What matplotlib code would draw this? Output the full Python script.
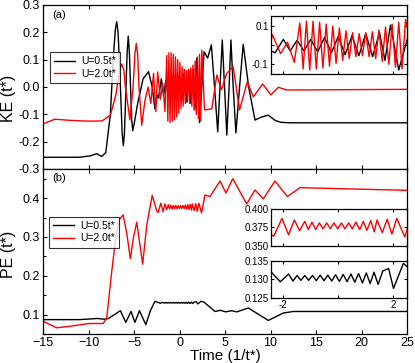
import matplotlib
matplotlib.use("Agg")
import matplotlib.pyplot as plt
from matplotlib.ticker import MultipleLocator, FixedLocator, FixedFormatter

plt.rcParams['font.family'] = ['Liberation Sans', 'DejaVu Sans']

# ---------------- data ----------------
ke_black_t = [-15, -11, -9.8, -9.1, -8.55, -8.1, -7.6, -7.25, -7.05, -6.9, -6.75, -6.55, -6.3, -6.17, -6.05, -5.9,
              -5.75, -5.63, -5.5, -5.38, -5.25, -5.14, -4.9, -4.6, -4.0, -3.4, -3.0, -2.7, -2.45,
              -2.3, -2.0, -1.75, -1.5, -1.25, -1.0, -0.75, -0.5, -0.25, 0.0, 0.25, 0.5, 0.75,
              1.0, 1.25, 1.5, 1.7, 1.9, 2.2, 2.7, 3.1, 3.5, 3.85, 4.2, 4.45, 4.7, 4.95, 5.2,
              5.45, 5.65, 5.9, 6.2, 6.6, 7.0, 7.6, 8.3, 9.0, 9.75, 10.5, 11.1, 12, 25]
ke_black_v = [-0.257, -0.257, -0.252, -0.244, -0.254, -0.24, -0.1, 0.12, 0.21, 0.239, 0.2, 0.05, -0.17, -0.215, -0.17, -0.02,
              0.13, 0.186, 0.12, 0.0, -0.12, -0.16, -0.12, -0.06, 0.03, 0.056, 0.0, -0.08, -0.03,
              -0.04, 0.03, -0.03, 0.025, -0.03, 0.03, -0.035, 0.04, -0.04, 0.045, -0.05, 0.05, -0.055,
              0.06, -0.06, 0.065, -0.08, 0.105, -0.13, 0.129, 0.106, 0.154, 0.0, -0.164, 0.0, 0.172, 0.0, -0.176,
              0.0, 0.172, 0.0, -0.168, 0.0, 0.156, 0.0, -0.121, -0.11, -0.103, -0.122, -0.129, -0.131, -0.131]

ke_red_t = [-15, -13.7, -12, -10, -8.5, -7.6, -7.0, -6.6, -6.35, -6.1, -5.95, -5.45, -5.1, -4.9, -4.75, -4.6, -4.45, -4.15,
            -3.8, -3.45, -3.15, -2.85, -2.6, -2.4, -2.1, -1.85, -1.6,
            -1.40, -1.28, -1.16, -1.04, -0.92, -0.80, -0.68, -0.56, -0.44, -0.32, -0.20, -0.08,
            0.04, 0.16, 0.28, 0.40, 0.52, 0.64, 0.76, 0.88, 1.00, 1.12, 1.24, 1.36, 1.48, 1.60,
            1.72, 1.84, 1.96, 2.08, 2.20, 2.32, 2.45, 2.75, 3.55, 4.1, 4.6, 5.2, 5.9, 6.6,
            7.45, 8.11, 9.14, 10.05, 10.86, 11.78, 25]
ke_red_v = [-0.135, -0.118, -0.122, -0.125, -0.124, -0.103, -0.03, 0.06, 0.084, 0.06, 0.0, -0.12, 0.0, 0.12, 0.16, 0.12, 0.0, -0.14,
            -0.05, 0.0, -0.06, 0.05, -0.09, 0.055, -0.045, 0.015, -0.09,
            0.115, -0.125, 0.125, -0.13, 0.125, -0.125, 0.12, -0.12, 0.11, -0.11, 0.10, -0.095,
            0.09, -0.08, 0.075, -0.07, 0.065, -0.06, 0.06, -0.055, 0.065, -0.06, 0.07, -0.07, 0.08, -0.085,
            0.095, -0.1, 0.11, -0.115, 0.12, -0.125, 0.135, -0.084, -0.08, 0.044, -0.01, 0.05, 0.074, -0.084,
            0.019, -0.036, 0.011, -0.029, -0.001, -0.011, -0.0085]

pe_black_t = [-15, -11, -9.0, -8.2, -7.8, -6.5, -5.9, -5.33, -4.9, -4.4, -3.7, -3.2, -2.7, -2.45,
              -2.11, -1.81, -1.65, -1.5, -1.36, -1.22, -1.08, -0.94, -0.80, -0.66, -0.52, -0.38,
              -0.24, -0.10, 0.04, 0.18, 0.32, 0.46, 0.60, 0.74, 0.88, 1.02, 1.16, 1.30, 1.45,
              1.62, 1.83, 2.01, 2.37, 2.7, 3.9, 4.5, 5.1, 5.7, 6.3, 7.56, 9.76, 11.4, 12.5, 25]
pe_black_v = [0.087, 0.087, 0.09, 0.088, 0.09, 0.110, 0.080, 0.108, 0.080, 0.11, 0.074, 0.11, 0.134, 0.132,
              0.1293, 0.1314, 0.1295, 0.131, 0.1297, 0.131, 0.1297, 0.131, 0.1296, 0.1311, 0.1296, 0.1311,
              0.1295, 0.1312, 0.1294, 0.1313, 0.1293, 0.1314, 0.1292, 0.1315, 0.129, 0.1317, 0.1288, 0.1319, 0.1286,
              0.1322, 0.1329, 0.1275, 0.1343, 0.132, 0.108, 0.111, 0.107, 0.11, 0.107, 0.117, 0.085, 0.104, 0.108, 0.108]

pe_red_t = [-15, -13.5, -12, -10, -8.4, -8.0, -7.5, -7.0, -6.6, -6.2, -5.8, -5.4, -5.05, -4.7, -4.35,
            -4.05, -3.6, -3.0, -2.5, -2.35, -2.05, -1.81, -1.6, -1.41, -1.22, -1.09, -0.96, -0.82,
            -0.69, -0.56, -0.42, -0.29, -0.16, -0.02, 0.11, 0.24, 0.38, 0.51, 0.64, 0.78, 0.91,
            1.04, 1.18, 1.31, 1.41, 1.6, 1.78, 1.95, 2.13, 2.42, 2.8, 3.35, 4.45, 5.11, 5.85,
            7.38, 8.30, 9.21, 10.49, 11.85, 13.24, 25]
pe_red_v = [0.083, 0.066, 0.07, 0.077, 0.077, 0.09, 0.2, 0.3, 0.345, 0.357, 0.31, 0.244, 0.3, 0.338, 0.28,
            0.23, 0.33, 0.407, 0.367, 0.363, 0.387, 0.365, 0.385, 0.3705, 0.383, 0.372, 0.382, 0.372,
            0.381, 0.373, 0.381, 0.373, 0.381, 0.373, 0.381, 0.373, 0.381, 0.373, 0.382, 0.372, 0.383,
            0.371, 0.384, 0.369, 0.385, 0.368, 0.386, 0.366, 0.387, 0.362, 0.408, 0.404, 0.444, 0.413, 0.450,
            0.385, 0.421, 0.398, 0.444, 0.404, 0.427, 0.420]

labels = ['U=0.5t*', 'U=2.0t*']
colors = ['black', 'red']
main_xticks = [-15, -10, -5, 0, 5, 10, 15, 20, 25]

# ---------------- figure ----------------
W, H = 415, 363
fig = plt.figure(figsize=(W / 100, H / 100), dpi=100)

def fa(x0, y0, x1, y1):
    return [x0 / W, 1 - y1 / H, (x1 - x0) / W, (y1 - y0) / H]

ax1 = fig.add_axes(fa(43, 5, 407, 169))
ax2 = fig.add_axes(fa(43, 169, 407, 334))

lw = 1.0
for ax, series in [(ax1, [(ke_black_t, ke_black_v), (ke_red_t, ke_red_v)]),
                   (ax2, [(pe_black_t, pe_black_v), (pe_red_t, pe_red_v)])]:
    for (t, v), c, lab in zip(series, colors, labels):
        ax.plot(t, v, color=c, lw=lw, label=lab)
    ax.set_xlim(-15, 25)
    ax.xaxis.set_major_locator(FixedLocator(main_xticks))
    ax.tick_params(direction='in', length=3, width=0.8, top=True, right=False, labelsize=9, pad=2.5)
    for s in ax.spines.values():
        s.set_linewidth(0.9)
    leg = ax.legend(loc='upper left', fontsize=7.5, frameon=True, fancybox=False,
                    edgecolor='black', handlelength=2.0, borderpad=0.4, labelspacing=0.25,
                    handletextpad=0.6, borderaxespad=0.0)
    leg.get_frame().set_linewidth(0.8)

ax1.legend_.set_bbox_to_anchor((0.019, 0.713))
ax2.legend_.set_bbox_to_anchor((0.0165, 0.711))

ax1.set_ylim(-0.3, 0.3)
ax1.yaxis.set_major_locator(MultipleLocator(0.1))
ax1.yaxis.set_major_formatter(matplotlib.ticker.FormatStrFormatter('%.1f'))
ax1.tick_params(labelbottom=False)
ax1.set_ylabel('KE (t*)', fontsize=11.5)
ax1.yaxis.set_label_coords(-0.074, 0.43)
ax1.text(0.025, 0.94, '(a)', transform=ax1.transAxes, fontsize=8, va='center', ha='left')

ax2.set_ylim(0.05, 0.475)
ax2.yaxis.set_major_locator(FixedLocator([0.1, 0.2, 0.3, 0.4]))
ax2.yaxis.set_minor_locator(FixedLocator([0.05, 0.15, 0.25, 0.35, 0.45]))
ax2.yaxis.set_major_formatter(matplotlib.ticker.FormatStrFormatter('%.1f'))
ax2.tick_params(which='minor', direction='in', length=2, width=0.8)
ax2.set_ylabel('PE (t*)', fontsize=11.5)
ax2.yaxis.set_label_coords(-0.074, 0.48)
ax2.set_xlabel('Time (1/t*)', fontsize=11)
ax2.xaxis.set_label_coords(0.5, -0.088)
ax2.text(0.025, 0.945, '(b)', transform=ax2.transAxes, fontsize=8, va='center', ha='left')

# ---------------- insets ----------------
ixlim = (-2.46, 2.49)
in1 = fig.add_axes(fa(270.7, 15.7, 406.7, 74))
in1.plot(ke_black_t, ke_black_v, color='black', lw=lw)
in1.plot(ke_red_t, ke_red_v, color='red', lw=lw)
in1.set_ylim(-0.151, 0.154)
in1.yaxis.set_major_locator(FixedLocator([-0.1, 0.0, 0.1]))
in1.yaxis.set_major_formatter(FixedFormatter(['-0.1', '', '0.1']))

in2 = fig.add_axes(fa(270.7, 208.7, 406.7, 246))
in2.plot(pe_red_t, pe_red_v, color='red', lw=lw)
in2.set_ylim(0.35, 0.40)
in2.yaxis.set_major_locator(FixedLocator([0.35, 0.375, 0.40]))
in2.yaxis.set_major_formatter(FixedFormatter(['0.350', '0.375', '0.400']))

in3 = fig.add_axes(fa(270.7, 260.7, 406.7, 297.7))
in3.plot(pe_black_t, pe_black_v, color='black', lw=lw)
in3.set_ylim(0.125, 0.135)
in3.yaxis.set_major_locator(FixedLocator([0.125, 0.130, 0.135]))
in3.yaxis.set_major_formatter(FixedFormatter(['0.125', '0.130', '0.135']))

for ax in (in1, in2, in3):
    ax.set_xlim(*ixlim)
    ax.xaxis.set_major_locator(FixedLocator([-2, 0, 2]))
    ax.tick_params(direction='in', length=2.5, width=0.8, top=True, right=True, labelsize=7, pad=1.5)
    for s in ax.spines.values():
        s.set_linewidth(0.9)
in1.tick_params(labelbottom=False)
in2.tick_params(labelbottom=False)
in3.xaxis.set_major_formatter(FixedFormatter(['-2', '', '2']))

fig.savefig('out.png', dpi=100)
